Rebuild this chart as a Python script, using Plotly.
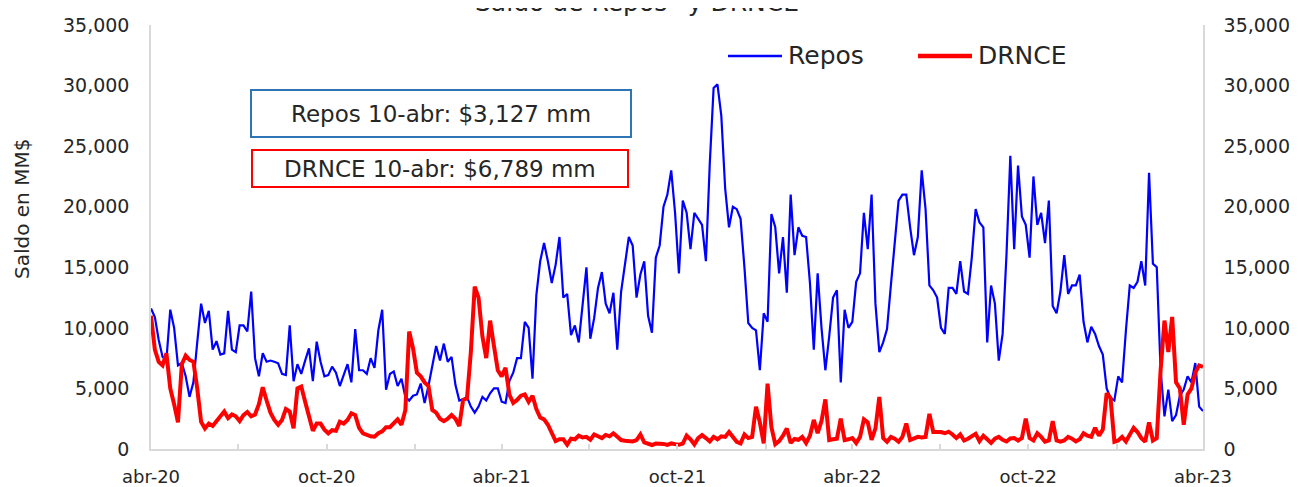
import plotly.graph_objects as go
import pandas as pd

# ---- data ----
dates = pd.date_range("2020-04-10", "2023-04-10", periods=274)

repos = [
    11600, 10900, 9000, 7600, 7350, 11500, 10000, 6900, 7100, 6000,
    4300, 5500, 8800, 12000, 10400, 11400, 8200, 8900, 7800, 7900,
    11400, 8200, 8000, 10200, 10200, 9700, 13000, 7500, 6000, 7900,
    7200, 7300, 7200, 7070, 6200, 6100, 10200, 5600, 7000, 6200,
    7300, 8300, 5600, 8860, 7200, 6000, 6100, 6800, 6300, 5200,
    6100, 7000, 5500, 9900, 6500, 6500, 6200, 7500, 6700, 9800,
    11500, 4900, 6200, 6400, 5200, 5800, 4300, 4000, 4400, 4500,
    5400, 3800, 5200, 6700, 8500, 7300, 8700, 7200, 7600, 5300,
    4000, 4100, 4300, 3500, 3000, 3500, 4300, 4000, 4600, 5000,
    5000, 3900, 3800, 5600, 6300, 7500, 7500, 10500, 10000, 5800,
    12700, 15500, 17000, 15500, 13700, 15200, 17500, 12500, 12800, 9400,
    10200, 8800, 11700, 15000, 9100, 10800, 13300, 14600, 12000, 11200,
    12900, 8200, 13000, 15100, 17500, 16800, 12500, 14400, 15500, 11000,
    9600, 15800, 16800, 20000, 21000, 23000, 19500, 14500, 20500, 19500,
    16500, 19500, 19000, 18500, 15500, 23500, 29800, 30100, 27500, 21500,
    18300, 20000, 19800, 19000, 15000, 10400, 10000, 9800, 6500, 11200,
    10500, 19400, 18300, 14500, 17500, 12900, 21000, 16000, 18300, 17600,
    17500, 13700, 8200, 14500, 10000, 6500, 9300, 12500, 13100, 5500,
    11500, 10000, 10500, 13800, 14500, 19500, 16500, 21000, 12000, 8000,
    8800, 9900, 13500, 17300, 20500, 21000, 21000, 18300, 16000, 17500,
    23000, 19800, 13500, 13100, 12500, 10000, 9500, 13300, 13300, 12800,
    15500, 13000, 12800, 15800, 19800, 18700, 18300, 8800, 13500, 12000,
    7300, 9500, 16000, 24200, 16500, 23400, 19200, 18500, 15800, 22500,
    18500, 19500, 17000, 20500, 11800, 11200, 13000, 16000, 12800, 13500,
    13500, 14400, 10500, 8800, 10100, 9500, 8500, 7800, 5000, 4200,
    4000, 6000, 5500, 9800, 13500, 13300, 13800, 15500, 13500, 22800,
    15300, 15000, 6500, 2700, 4900, 2300, 2800, 4400, 4900, 6000,
    5500, 7100, 3500, 3127,
]

drnce = [
    11000, 8200, 7200, 6900, 7900, 5000, 3700, 2200, 7000, 7700,
    7350, 7200, 5000, 2250, 1700, 2100, 1900, 2300, 2800, 3100,
    2550, 2850, 2700, 2300, 2800, 3050, 2700, 2850, 3700, 5100,
    4000, 3000, 2400, 2000, 2400, 3300, 3100, 1700, 5000, 5150,
    3900, 2600, 1500, 2100, 2100, 1600, 1300, 1550, 1500, 2250,
    2100, 2400, 2950, 2800, 1750, 1300, 1150, 1050, 1020, 1300,
    1450, 1800, 1800, 2100, 2450, 2000, 3200, 9700, 8300, 6300,
    6000, 5500, 5200, 3220, 3000, 2500, 2300, 2500, 2800, 2500,
    1900, 4050, 4180, 8000, 13400, 12500, 9300, 7500, 10600, 8500,
    6500, 6000, 6700, 4500, 3800, 4050, 4400, 4500, 3900, 4400,
    3300, 2600, 2450, 2000, 1300, 650, 800, 800, 350, 850,
    800, 1100, 950, 1000, 760, 1200, 1050, 900, 1160, 1050,
    1300, 1000, 740, 680, 680, 620, 740, 1200, 550, 450,
    330, 450, 470, 420, 340, 460, 400, 350, 450, 1100,
    800, 380, 900, 1150, 900, 620, 1000, 800, 1050, 1000,
    1400, 1000, 600, 470, 1200, 900, 1000, 3490, 2200, 470,
    5400, 1800, 400, 650, 1100, 1700, 500, 830, 760, 1000,
    500, 1100, 2400, 1300, 2300, 4100, 740, 800, 850, 2500,
    740, 800, 900, 500, 1000, 2450, 2200, 750, 1700, 4300,
    900, 600, 1000, 850, 600, 1000, 2100, 740, 880, 1000,
    950, 1000, 2900, 1400, 1400, 1400, 1300, 1430, 1200, 900,
    1200, 700, 850, 1020, 1250, 650, 1100, 800, 500, 850,
    1000, 760, 620, 880, 900, 700, 900, 2500, 900, 700,
    1300, 1000, 600, 700, 2300, 700, 600, 700, 1000, 850,
    620, 800, 1300, 1100, 1000, 1750, 1100, 1600, 4600, 4200,
    600, 700, 1000, 620, 1200, 1750, 1400, 900, 600, 2200,
    700, 900, 6500, 10600, 8000, 10900, 5500, 5000, 2000, 4500,
    5000, 6300, 6900, 6789,
]

x_tick_vals = ["2020-04-10", "2020-10-10", "2021-04-10", "2021-10-10",
               "2022-04-10", "2022-10-10", "2023-04-10"]
x_tick_text = ["abr-20", "oct-20", "abr-21", "oct-21", "abr-22", "oct-22", "abr-23"]
x_minor_vals = ["2020-07-10", "2021-01-10", "2021-07-10", "2022-01-10",
                "2022-07-10", "2023-01-10"]
y_tick_vals = [0, 5000, 10000, 15000, 20000, 25000, 30000, 35000]

title_text = "Saldo de Repos* y DRNCE"
y_title = "Saldo en MM$"
series_names = ["Repos", "DRNCE"]
box_texts = ["Repos 10-abr: $3,127 mm", "DRNCE 10-abr: $6,789 mm"]

FONT = "DejaVu Sans"
TXT = "#262626"
AX = "#D9D9D9"
BLUE = "#0000FF"
RED = "#FF0000"

# the page has an 8px body margin; the figure fills the rest of the window
OFF = 8
PL, PT, PW, PH = 151, 25, 1052, 424   # plot area in page pixels


def px(x):
    return (x - PL) / PW


def py(y):
    return (PT + PH - y) / PH


fig = go.Figure()
fig.add_trace(go.Scatter(x=dates, y=repos, mode="lines", name=series_names[0],
                         line=dict(color=BLUE, width=2.2), yaxis="y"))
fig.add_trace(go.Scatter(x=dates, y=drnce, mode="lines", name=series_names[1],
                         line=dict(color=RED, width=4), yaxis="y2"))

yax = dict(range=[0, 35000], tickvals=y_tick_vals, tickformat=",",
           showline=True, linecolor=AX, linewidth=1.5, ticks="",
           showgrid=False, zeroline=False, automargin=False,
           tickfont=dict(family=FONT, size=19, color=TXT))

W, H = 1298 - OFF, 487 - OFF
fig.update_layout(
    width=W, height=H, autosize=False,
    margin=dict(l=PL - OFF, r=W - (PL - OFF) - PW, t=PT - OFF,
                b=H - (PT - OFF) - PH, autoexpand=False),
    paper_bgcolor="white", plot_bgcolor="white",
    showlegend=False,
    font=dict(family=FONT, color=TXT),
    xaxis=dict(type="date", range=[dates[0], dates[-1]],
               tickvals=x_tick_vals, ticktext=x_tick_text,
               showline=True, linecolor=AX, linewidth=1.5,
               ticks="inside", ticklen=5, tickcolor=AX, tickwidth=1.5,
               minor=dict(tickvals=x_minor_vals, ticks="inside", ticklen=5,
                          tickcolor=AX, tickwidth=1.5, showgrid=False),
               showgrid=False, zeroline=False, automargin=False,
               ticklabelstandoff=11,
               tickfont=dict(family=FONT, size=18, color=TXT)),
    yaxis=dict(**yax, side="left", ticklabelstandoff=16),
    yaxis2=dict(**yax, side="right", overlaying="y", ticklabelstandoff=15),
)

# title (partly cut off at the top, as in the reference)
fig.add_annotation(text=title_text, xref="paper", yref="paper",
                   x=px(637), y=py(19), xanchor="center", yanchor="bottom",
                   showarrow=False, font=dict(family=FONT, size=25, color=TXT))

# y axis title
fig.add_annotation(text=y_title, xref="paper", yref="paper",
                   x=px(22), y=py(209), textangle=-90,
                   xanchor="center", yanchor="middle", showarrow=False,
                   font=dict(family=FONT, size=20, color=TXT))

# manual legend
leg_y = py(56)
fig.add_shape(type="line", xref="paper", yref="paper",
              x0=px(728), x1=px(782), y0=leg_y, y1=leg_y,
              line=dict(color=BLUE, width=2.5))
fig.add_annotation(text=series_names[0], xref="paper", yref="paper",
                   x=px(786), y=leg_y, xanchor="left", yanchor="middle",
                   showarrow=False, font=dict(family=FONT, size=25, color=TXT))
fig.add_shape(type="line", xref="paper", yref="paper",
              x0=px(918), x1=px(972), y0=leg_y, y1=leg_y,
              line=dict(color=RED, width=4.5))
fig.add_annotation(text=series_names[1], xref="paper", yref="paper",
                   x=px(976), y=leg_y, xanchor="left", yanchor="middle",
                   showarrow=False, font=dict(family=FONT, size=25, color=TXT))

# value boxes
fig.add_shape(type="rect", xref="paper", yref="paper",
              x0=px(251), x1=px(631), y0=py(137), y1=py(90),
              line=dict(color="#2E75B6", width=2), fillcolor="white")
fig.add_annotation(text=box_texts[0], xref="paper", yref="paper",
                   x=px(441), y=py(114),
                   xanchor="center", yanchor="middle", showarrow=False,
                   font=dict(family=FONT, size=23, color=TXT))
fig.add_shape(type="rect", xref="paper", yref="paper",
              x0=px(252), x1=px(628), y0=py(187), y1=py(150),
              line=dict(color=RED, width=2), fillcolor="white")
fig.add_annotation(text=box_texts[1], xref="paper", yref="paper",
                   x=px(440), y=py(169),
                   xanchor="center", yanchor="middle", showarrow=False,
                   font=dict(family=FONT, size=23, color=TXT))

fig.write_html("out.html")
